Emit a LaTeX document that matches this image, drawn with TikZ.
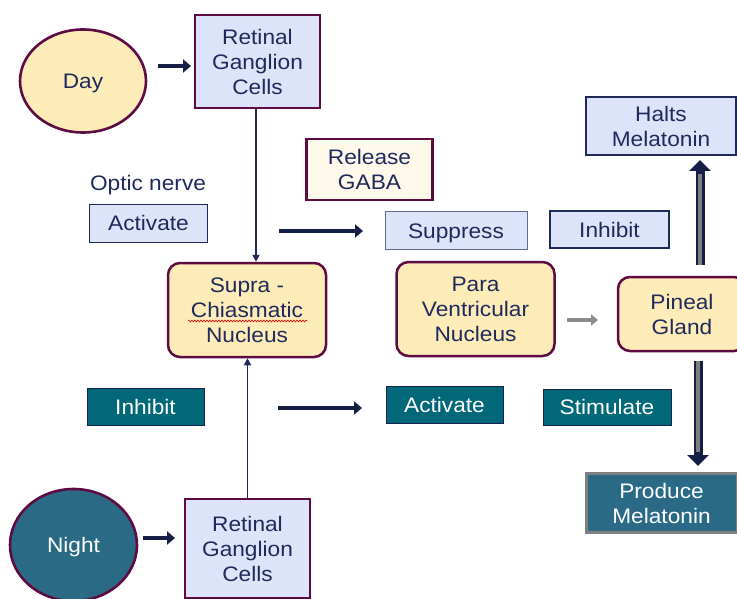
\documentclass[tikz,border=0pt]{standalone}
\usepackage{fontspec}
\setmainfont{Liberation Sans}[FakeStretch=1.08]
\usetikzlibrary{arrows.meta,shapes.geometric,decorations.pathmorphing}
\definecolor{navy}{HTML}{1F2A5C}
\definecolor{arrnavy}{HTML}{141E46}
\definecolor{maroon}{HTML}{5E0B44}
\definecolor{cream}{HTML}{FDEBB8}
\definecolor{lav}{HTML}{DDE3F9}
\definecolor{gabafill}{HTML}{FFF9EC}
\definecolor{tealbox}{HTML}{006878}
\definecolor{nightfill}{HTML}{2A6A85}
\definecolor{prodfill}{HTML}{2B6A87}
\definecolor{prodborder}{HTML}{808080}
\definecolor{grayarr}{HTML}{8C8C8C}
\begin{document}
\begin{tikzpicture}[x=1pt,y=-1pt,
  every node/.style={font=\fontsize{21}{25}\selectfont, text=navy, align=center, inner sep=0pt},
  oneline/.style={text height=15pt, text depth=0pt},
  oval/.style={ellipse, draw=maroon, line width=2.6pt, oneline},
  retbox/.style={rectangle, draw=maroon, line width=2.5pt, fill=lav},
  nucbox/.style={rectangle, rounded corners=12pt, draw=maroon, line width=2.5pt, fill=cream},
  lavbox/.style={rectangle, draw=navy, line width=1.8pt, fill=lav},
  tealrect/.style={rectangle, draw=navy!80!black, line width=1pt, fill=tealbox, text=white, oneline},
  bigarrow/.style={draw=arrnavy, line width=4.5pt, -{Triangle[length=8pt,width=13pt]}},
  thinarrow/.style={draw=navy, line width=1.8pt, -{Triangle[length=7pt,width=7pt]}},
]
\useasboundingbox (0,0) rectangle (737,599);
\clip (0,0) rectangle (737,599);
% nodes
\node[oval, fill=cream, minimum width=126pt, minimum height=103pt] (day) at (83,81) {Day};
\node[retbox, minimum width=125pt, minimum height=93pt] (rgc1) at (257.5,61.5) {Retinal\\Ganglion\\Cells};
\node[oneline] (optic) at (148,183) {Optic nerve};
\node[lavbox, oneline, line width=1.5pt, minimum width=118pt, minimum height=38pt] (act1) at (148.5,223.5) {Activate};
\node[rectangle, draw=maroon, line width=2.5pt, fill=gabafill, minimum width=126pt, minimum height=61pt] (gaba) at (369.5,169.5) {Release\\GABA};
\node[lavbox, oneline, draw=navy!70, line width=1pt, minimum width=142pt, minimum height=37pt] (supp) at (456,230.5) {Suppress};
\node[lavbox, oneline, line width=2pt, minimum width=119pt, minimum height=37pt] (inh1) at (609.5,229.5) {Inhibit};
\node[lavbox, line width=2.5pt, minimum width=150pt, minimum height=58pt] (halts) at (661,126) {Halts\\Melatonin};
\node[nucbox, minimum width=158pt, minimum height=94pt] (scn) at (247,310) {Supra -\\Chiasmatic\\Nucleus};
\node[nucbox, minimum width=158pt, minimum height=94pt] (pvn) at (475.5,309) {Para\\Ventricular\\Nucleus};
\node[nucbox, minimum width=128pt, minimum height=74pt] (pineal) at (682,314) {Pineal\\Gland};
\node[tealrect, minimum width=117pt, minimum height=37pt] (inh2) at (145.5,406.5) {Inhibit};
\node[tealrect, minimum width=117pt, minimum height=37pt] (act2) at (444.5,404.5) {Activate};
\node[tealrect, minimum width=128pt, minimum height=36pt] (stim) at (607,407) {Stimulate};
\node[rectangle, draw=prodborder, line width=3pt, fill=prodfill, text=white, minimum width=151pt, minimum height=59pt] (prod) at (661.5,503) {Produce\\Melatonin};
\node[retbox, minimum width=125pt, minimum height=99pt] (rgc2) at (247.5,548.5) {Retinal\\Ganglion\\Cells};
\node[oval, fill=nightfill, text=white, minimum width=127pt, minimum height=112pt] (night) at (73.5,545) {Night};
% spell-check underline
\coordinate (w1) at (188,321);
\coordinate (w2) at (307,321);
\draw[red!85!black, line width=0.6pt, decorate, decoration={snake, amplitude=0.9pt, segment length=3pt}] (w1) -- (w2);
% free-end coordinates for the loose arrows
\coordinate (d1) at (158,66);  \coordinate (d2) at (191,66);
\coordinate (s1) at (279,231); \coordinate (s2) at (363,231);
\coordinate (a1) at (278,408); \coordinate (a2) at (362,408);
\coordinate (n1) at (143,538); \coordinate (n2) at (175,538);
\coordinate (g1) at (567,320); \coordinate (g2) at (598,320);
% connectors
\draw[bigarrow] (d1) -- (d2);
\draw[bigarrow] (s1) -- (s2);
\draw[bigarrow] (a1) -- (a2);
\draw[bigarrow] (n1) -- (n2);
\draw[draw=grayarr, line width=4pt, -{Triangle[length=7pt,width=11pt]}] (g1) -- (g2);
\draw[thinarrow] ([xshift=-1.5pt]rgc1.south) -- ([xshift=-1.5pt]rgc1.south |- scn.north);
\draw[thinarrow] (rgc2.north) -- (rgc2.north |- scn.south);
% double (outlined) arrows from the pineal gland
\coordinate (u1) at (700,265); \coordinate (u2) at (700,160);
\coordinate (v1) at (698,361); \coordinate (v2) at (698,466);
\draw[draw=arrnavy, line width=9pt, -{Triangle[length=11pt,width=21pt]}] (u1) -- (u2);
\draw[draw=grayarr!90!black, line width=3.5pt] (u1) -- ([yshift=-14pt]u2);
\draw[draw=arrnavy, line width=9pt, -{Triangle[length=11pt,width=21pt]}] (v1) -- (v2);
\draw[draw=grayarr!90!black, line width=3.5pt] (v1) -- ([yshift=14pt]v2);
\end{tikzpicture}
\end{document}
